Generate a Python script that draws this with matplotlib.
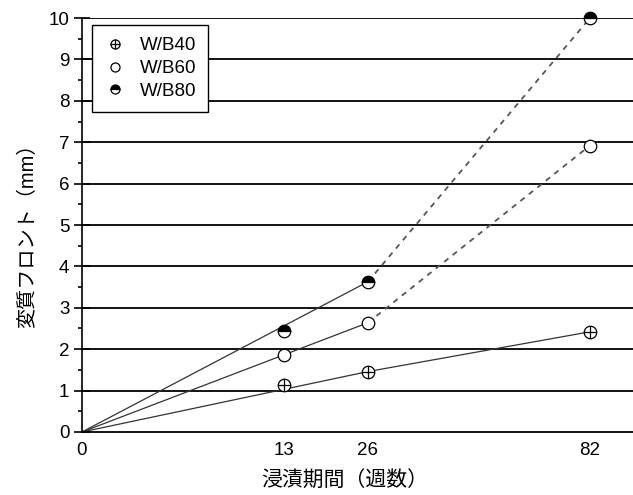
import numpy as np
import matplotlib
matplotlib.use("Agg")
import matplotlib.pyplot as plt
from matplotlib.lines import Line2D
from matplotlib.legend_handler import HandlerTuple

plt.rcParams['font.family'] = ['Liberation Sans', 'Noto Sans CJK JP']

# data (x: weeks, y: mm)
weeks = [13, 26, 82]
wb40 = [1.13, 1.46, 2.42]
wb60 = [1.87, 2.64, 6.92]
wb80 = [2.44, 3.63, 10.0]
xtick_vals = [0, 13, 26, 82]
labels = ["W/B40", "W/B60", "W/B80"]

fig = plt.figure(figsize=(6.33, 4.95), dpi=100)
ax = fig.add_axes([0.1295, 0.1273, 0.8705, 0.8363])

# sqrt time axis
ax.set_xscale('function', functions=(lambda x: np.sqrt(np.clip(x, 0, None)), np.square))
ax.set_xlim(0, 96.5)
ax.set_ylim(0, 10)

# horizontal grid lines
for yv in range(1, 11):
    ax.axhline(yv, color='black', lw=1.3, zorder=1)

lc = '#333333'
# solid lines from origin to the 26 week point, then on to 82 weeks
for ys, ls in [(wb40, '-'), (wb60, '--'), (wb80, '--')]:
    ax.plot([0, weeks[1]], [0, ys[1]], color=lc, lw=0.9, zorder=2)
    if ls == '-':
        ax.plot(weeks[1:], ys[1:], color=lc, lw=0.9, zorder=2)
    else:
        ax.plot(weeks[1:], ys[1:], color='#555555', lw=1.3, ls='--', dashes=(3, 3), zorder=2)

ms = 9
mk = dict(color='black', ls='none', ms=ms, mew=0.9, clip_on=False, zorder=4)
ax.plot(weeks, wb40, marker='o', mfc='white', **mk)
ax.plot(weeks, wb40, marker='+', ms=ms, mew=0.9, color='black', ls='none', clip_on=False, zorder=5)
ax.plot(weeks, wb60, marker='o', mfc='white', **mk)
ax.plot(weeks, wb80, marker='o', mfc='black', fillstyle='top', markerfacecoloralt='white', **mk)

# axes styling
for s in ['top', 'right']:
    ax.spines[s].set_visible(False)
ax.spines['left'].set_linewidth(1.2)
ax.spines['bottom'].set_linewidth(1.3)
ax.set_yticks(range(0, 11))
ax.set_yticks(np.arange(0.5, 10, 1), minor=True)
ax.tick_params(axis='y', which='major', direction='inout', length=12, width=1.2, labelsize=13.5, pad=3)
ax.tick_params(axis='y', which='minor', direction='out', length=3, width=1.2)
ax.set_xticks(xtick_vals)
ax.set_xticklabels([str(v) for v in xtick_vals])
ax.xaxis.set_minor_locator(plt.NullLocator())
ax.tick_params(axis='x', which='major', length=0, labelsize=13.5, pad=7)

ax.set_ylabel('変質フロント（mm）', fontsize=14.5)
ax.yaxis.set_label_coords(-0.082, 0.485)
ax.set_xlabel('浸漬期間（週数）', fontsize=15)
ax.xaxis.set_label_coords(0.477, -0.093)

# legend
h40 = (Line2D([], [], marker='o', mfc='white', color='black', ls='none', ms=6.5, mew=0.9),
       Line2D([], [], marker='+', color='black', ls='none', ms=6.5, mew=0.9))
h60 = Line2D([], [], marker='o', mfc='white', color='black', ls='none', ms=6.5, mew=0.9)
h80 = Line2D([], [], marker='o', mfc='black', fillstyle='top', markerfacecoloralt='white',
             color='black', ls='none', ms=6.5, mew=0.9)
leg = ax.legend([h40, h60, h80], labels, handler_map={tuple: HandlerTuple(ndivide=1)},
                loc='upper left', bbox_to_anchor=(0.018, 0.983), borderaxespad=0, fontsize=13.5,
                frameon=True, fancybox=False, edgecolor='black', framealpha=1,
                handlelength=1.2, handletextpad=0.7, labelspacing=0.3, borderpad=0.65)
leg.get_frame().set_linewidth(1.0)
leg.set_zorder(6)

fig.savefig('out.png', dpi=100)
